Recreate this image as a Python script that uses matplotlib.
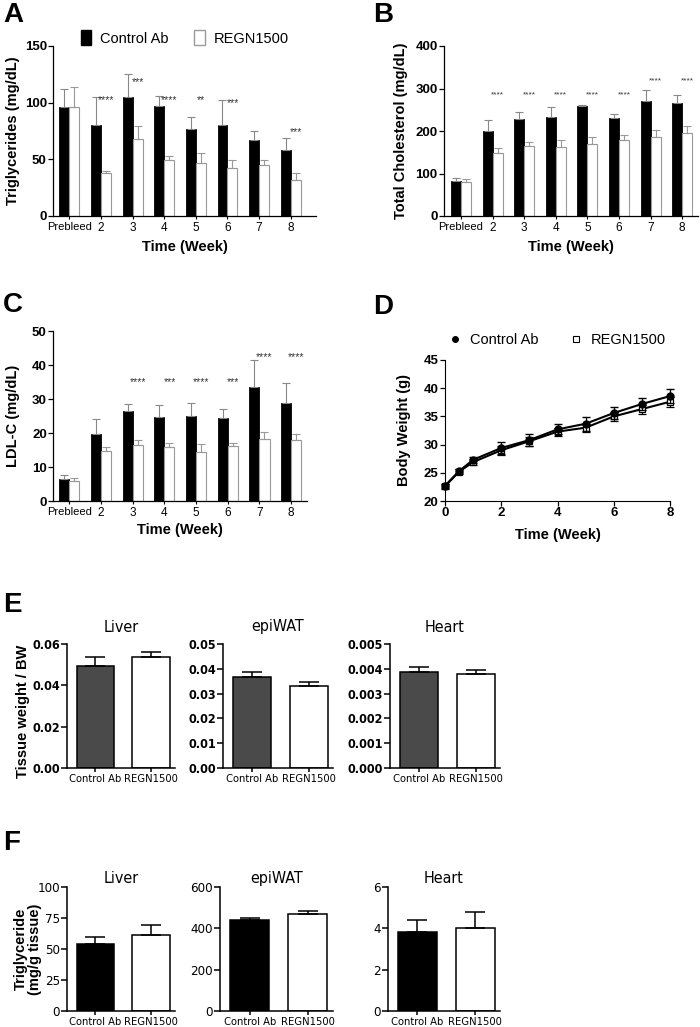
import matplotlib
matplotlib.use('Agg')
from matplotlib import pyplot as plt
from matplotlib import font_manager as fm
from matplotlib.lines import Line2D
import numpy as np

plt.rcParams['font.family'] = ['Liberation Sans', 'DejaVu Sans']

# pick a condensed face if one is installed, else plain Arial-like
installed = fm.fontManager.ttflist
narrow_stretch = 'normal'
if any(f.name == 'Liberation Sans Narrow' for f in installed):
    narrow = ['Liberation Sans Narrow', 'Liberation Sans', 'DejaVu Sans']
elif any(f.name == 'DejaVu Sans' and f.stretch == 'condensed' for f in installed):
    narrow = ['DejaVu Sans']
    narrow_stretch = 'condensed'
else:
    narrow = ['Liberation Sans', 'DejaVu Sans']

weeks = ['Prebleed', '2', '3', '4', '5', '6', '7', '8']

tg_ctrl = [96, 80, 105, 97, 77, 80, 67, 58]
tg_ctrl_err = [16, 25, 20, 9, 10, 22, 8, 11]
tg_regn = [96, 38, 68, 49, 47, 42, 45, 32]
tg_regn_err = [18, 2, 11, 4, 9, 7, 4, 6]
tg_stars = ['', '****', '***', '****', '**', '***', '', '***']
tg_star_y = [0, 102, 118, 102, 102, 100, 0, 74]

tc_ctrl = [82, 199, 229, 234, 258, 231, 270, 267]
tc_ctrl_err = [8, 26, 16, 22, 4, 10, 26, 17]
tc_regn = [80, 148, 164, 162, 170, 178, 187, 196]
tc_regn_err = [6, 13, 11, 16, 17, 13, 16, 15]
tc_stars = ['', '****', '****', '****', '****', '****', '****', '****']
tc_star_y = [0, 286, 286, 286, 286, 286, 317, 317]

ldl_ctrl = [6.4, 19.8, 26.4, 24.8, 25.0, 24.4, 33.4, 28.9]
ldl_ctrl_err = [1.2, 4.3, 2.1, 3.3, 3.9, 2.6, 8.1, 5.7]
ldl_regn = [6.0, 14.8, 16.4, 15.8, 14.4, 16.1, 18.3, 17.8]
ldl_regn_err = [0.9, 1.0, 1.4, 1.3, 2.3, 0.9, 1.9, 2.0]
ldl_stars = ['', '', '****', '***', '****', '***', '****', '****']
ldl_star_y = [0, 0, 35, 35, 35, 35, 42.4, 42.4]

bw_weeks = [0, 0.5, 1, 2, 3, 4, 5, 6, 7, 8]
bw_ctrl = [22.7, 25.3, 27.3, 29.4, 30.8, 32.7, 33.7, 35.6, 37.2, 38.6]
bw_ctrl_err = [0.4, 0.4, 0.5, 1.0, 1.0, 0.9, 1.2, 1.0, 1.0, 1.2]
bw_regn = [22.6, 25.2, 26.9, 29.0, 30.6, 32.3, 33.0, 35.0, 36.3, 37.6]
bw_regn_err = [0.5, 0.4, 0.5, 0.8, 0.8, 0.7, 0.7, 0.8, 0.8, 0.9]

groups = ['Control Ab', 'REGN1500']
tissues = ['Liver', 'epiWAT', 'Heart']
tw_mean = [[0.0495, 0.0535], [0.0366, 0.0329], [0.00387, 0.00380]]
tw_err = [[0.0040, 0.0025], [0.0020, 0.0016], [0.00020, 0.00016]]
tw_ticks = [[0, 0.02, 0.04, 0.06], [0, 0.01, 0.02, 0.03, 0.04, 0.05],
            [0, 0.001, 0.002, 0.003, 0.004, 0.005]]
tw_fmt = ['%.2f', '%.2f', '%.3f']

ttg_mean = [[54, 61.4], [441, 470], [3.84, 4.0]]
ttg_err = [[5.7, 7.8], [8, 13], [0.55, 0.78]]
ttg_ticks = [[0, 25, 50, 75, 100], [0, 200, 400, 600], [0, 2, 4, 6]]

fig = plt.figure(figsize=(7, 10.27), dpi=100)


def px(l, t, r, b):
    W, H = 700, 1027
    return fig.add_axes([l / W, 1 - b / H, (r - l) / W, (b - t) / H])


def week_bars(ax, ctrl, ctrl_err, regn, regn_err, stars, star_y, ylim, yticks,
              ylabel, xlim, star_fs, ylab_x, xlab_y):
    x = np.arange(len(weeks))
    w = 0.316
    ax.bar(x - w / 2, ctrl, w, color='black', edgecolor='black', linewidth=0.6)
    ax.bar(x + w / 2, regn, w, color='white', edgecolor='#999999', linewidth=0.8)
    ax.errorbar(x - w / 2, ctrl, yerr=[np.zeros(len(x)), ctrl_err], fmt='none',
                ecolor='#888888', elinewidth=0.8, capsize=3, capthick=0.8)
    ax.errorbar(x + w / 2, regn, yerr=[np.zeros(len(x)), regn_err], fmt='none',
                ecolor='#999999', elinewidth=0.8, capsize=3, capthick=0.8)
    for i, s in enumerate(stars):
        if s:
            ax.text(x[i] + w / 2, star_y[i], s, ha='center', va='center',
                    fontsize=star_fs, color='#333333')
    ax.set_xlim(*xlim)
    ax.set_ylim(*ylim)
    ax.set_yticks(yticks)
    ax.set_xticks(x)
    ax.set_xticklabels(weeks, fontsize=8.5)
    ax.get_xticklabels()[0].set_fontsize(8)
    for lab in ax.get_yticklabels():
        lab.set_fontweight('bold')
        lab.set_fontsize(9.5)
    ax.tick_params(axis='x', length=2.5, width=0.8, pad=2)
    ax.tick_params(axis='y', length=3.5, width=0.9, pad=1)
    for sp in ['top', 'right']:
        ax.spines[sp].set_visible(False)
    for sp in ['left', 'bottom']:
        ax.spines[sp].set_linewidth(0.9)
    ax.set_xlabel('Time (Week)', fontsize=10.5, fontweight='bold')
    ax.set_ylabel(ylabel, fontsize=10.5, fontweight='bold')
    ax.yaxis.set_label_coords(ylab_x, 0.5)
    ax.xaxis.set_label_coords(0.5, xlab_y)


# A
axA = px(53, 46, 316, 216)
week_bars(axA, tg_ctrl, tg_ctrl_err, tg_regn, tg_regn_err, tg_stars, tg_star_y,
          (0, 150), [0, 50, 100, 150], 'Triglycerides (mg/dL)', (-0.52, 7.8), 7.5,
          -0.125, -0.14)
h1 = plt.Rectangle((0, 0), 1, 1, facecolor='black', edgecolor='black')
h2 = plt.Rectangle((0, 0), 1, 1, facecolor='white', edgecolor='#999999')
axA.legend([h1, h2], groups, loc='center', bbox_to_anchor=(0.5, 1 + 8 / 170),
           ncol=2, frameon=False, fontsize=10.5, handlelength=0.7, handleheight=1.2,
           handletextpad=0.6, columnspacing=1.8, borderpad=0)
fig.text(3 / 700, 1 - 15 / 1027, 'A', fontsize=20, fontweight='bold', va='center')

# B
axB = px(444, 46, 698, 216)
week_bars(axB, tc_ctrl, tc_ctrl_err, tc_regn, tc_regn_err, tc_stars, tc_star_y,
          (0, 400), [0, 100, 200, 300, 400], 'Total Cholesterol (mg/dL)', (-0.54, 7.5), 6,
          -0.142, -0.14)
fig.text(373 / 700, 1 - 15 / 1027, 'B', fontsize=20, fontweight='bold', va='center')

# C
axC = px(53, 331, 307, 501)
week_bars(axC, ldl_ctrl, ldl_ctrl_err, ldl_regn, ldl_regn_err, ldl_stars, ldl_star_y,
          (0, 50), [0, 10, 20, 30, 40, 50], 'LDL-C (mg/dL)', (-0.52, 7.5), 7.5,
          -0.13, -0.13)
fig.text(3 / 700, 1 - 305 / 1027, 'C', fontsize=20, fontweight='bold', va='center')

# D
axD = px(445, 360, 670, 501)
axD.errorbar(bw_weeks, bw_ctrl, yerr=bw_ctrl_err, color='black', marker='o', ms=5,
             lw=1.5, capsize=3, elinewidth=0.9, clip_on=False, zorder=3)
axD.errorbar(bw_weeks, bw_regn, yerr=bw_regn_err, color='black', marker='s', ms=5,
             mfc='white', mec='black', mew=0.9, lw=1.5, capsize=3, elinewidth=0.9,
             clip_on=False, zorder=2)
axD.set_xlim(0, 8)
axD.set_ylim(20, 45)
axD.set_xticks([0, 2, 4, 6, 8])
axD.set_yticks([20, 25, 30, 35, 40, 45])
for sp in ['top', 'right']:
    axD.spines[sp].set_visible(False)
for lab in axD.get_xticklabels() + axD.get_yticklabels():
    lab.set_fontweight('bold')
    lab.set_fontsize(9.5)
axD.tick_params(length=3.5, width=0.9, pad=1)
axD.set_xlabel('Time (Week)', fontsize=10.5, fontweight='bold')
axD.set_ylabel('Body Weight (g)', fontsize=10.5, fontweight='bold')
axD.yaxis.set_label_coords(-0.151, 0.5)
axD.xaxis.set_label_coords(0.5, -0.19)
d1 = Line2D([], [], ls='none', marker='o', ms=4, color='black')
d2 = Line2D([], [], ls='none', marker='s', ms=4, mfc='white', mec='black', mew=0.8)
axD.legend([d1, d2], groups, loc='center', bbox_to_anchor=(0.5, 1 + 20 / 141), ncol=2,
           frameon=False, fontsize=10.5, handlelength=0.8, handletextpad=0.6,
           columnspacing=2.2, borderpad=0)
fig.text(373 / 700, 1 - 307 / 1027, 'D', fontsize=20, fontweight='bold', va='center')


def tissue_bars(ax, means, errs, ticks, fmt, title, ctrl_color, bold_ticks, tpad):
    x = np.arange(2)
    ax.bar(x, means, 0.67, color=[ctrl_color, 'white'], edgecolor='black', linewidth=1.1)
    ax.errorbar(x, means, yerr=[[0, 0], errs], fmt='none', ecolor='black',
                elinewidth=1.1, capsize=7, capthick=1.1)
    ax.set_xlim(-0.51, 1.43)
    ax.set_ylim(ticks[0], ticks[-1])
    ax.set_yticks(ticks)
    if fmt:
        ax.set_yticklabels([fmt % t for t in ticks])
    ax.set_xticks(x)
    ax.set_xticklabels(groups, family=narrow, stretch=narrow_stretch, fontsize=8)
    for lab in ax.get_yticklabels():
        lab.set_family(narrow)
        lab.set_stretch(narrow_stretch)
        if bold_ticks:
            lab.set_fontweight('bold')
            lab.set_fontsize(9)
        else:
            lab.set_fontsize(9.5)
    for sp in ['top', 'right']:
        ax.spines[sp].set_visible(False)
    for sp in ['left', 'bottom']:
        ax.spines[sp].set_linewidth(1.1)
    ax.tick_params(axis='y', length=4, width=1.1, pad=1)
    ax.tick_params(axis='x', length=3, width=1.1, pad=1)
    ax.set_title(title, family=narrow, stretch=narrow_stretch, fontsize=11.5, pad=tpad)


e_cols = [(67, 175), (223, 333), (390, 500)]
f_cols = [(67, 175), (220, 333), (388, 500)]
for k in range(3):
    ax = px(e_cols[k][0], 644, e_cols[k][1], 768)
    tissue_bars(ax, tw_mean[k], tw_err[k], tw_ticks[k], tw_fmt[k], tissues[k],
                '#4a4a4a', True, 9)
    if k == 0:
        ax.set_ylabel('Tissue weight / BW', fontsize=10.5, fontweight='bold')
        ax.yaxis.set_label_coords(-0.34, 0.46)
fig.text(3 / 700, 1 - 605 / 1027, 'E', fontsize=20, fontweight='bold', va='center')

for k in range(3):
    ax = px(f_cols[k][0], 887, f_cols[k][1], 1011)
    tissue_bars(ax, ttg_mean[k], ttg_err[k], ttg_ticks[k], None, tissues[k],
                'black', False, 3)
    if k == 0:
        ax.set_ylabel('Triglyceride\n(mg/g tissue)', fontsize=10.5, fontweight='bold',
                      linespacing=1.0)
        ax.yaxis.set_label_coords(-0.23, 0.5)
fig.text(3 / 700, 1 - 843 / 1027, 'F', fontsize=20, fontweight='bold', va='center')

fig.savefig('out.png', dpi=100)
